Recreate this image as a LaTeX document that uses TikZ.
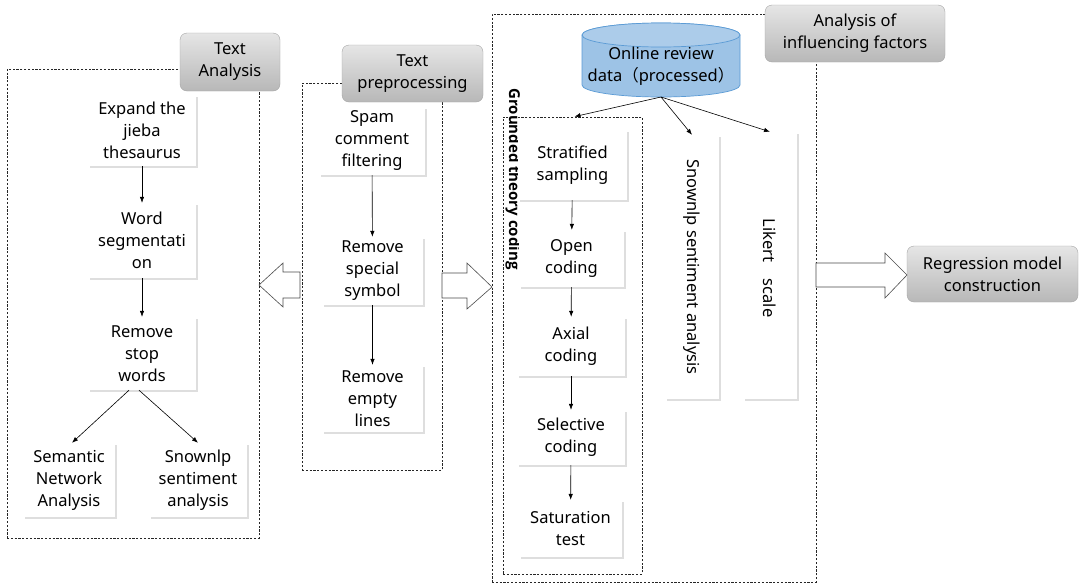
\documentclass[tikz,border=0pt]{standalone}
\usepackage{fontspec}
\setmainfont{Noto Sans}
\newfontfamily\cjk{Noto Sans CJK SC}
\newfontfamily\gfont{Open Sans}
\usetikzlibrary{shadows,arrows.meta}
\definecolor{cylfill}{HTML}{9DC3E6}
\definecolor{cylline}{HTML}{5B9BD5}
\tikzset{
  txt/.style={font=\fontsize{16.5}{22}\selectfont},
  wbox/.style={txt, fill=white, align=center, inner sep=0pt,
    drop shadow={shadow xshift=1.5pt, shadow yshift=-2pt, fill=black!25, opacity=0.5}},
  gbox/.style={txt, draw=black!35, rounded corners=7pt, top color=black!10, bottom color=black!28,
    align=center, inner sep=0pt},
  dbox/.style={draw=black!85, line width=0.8pt, dash pattern=on 2.2pt off 1.6pt, inner sep=0pt},
  conn/.style={-{Latex[length=6pt,width=4.5pt]}, line width=0.6pt},
  hollow/.style={draw=black!70, fill=white, line width=0.6pt, line join=miter}
}
\begin{document}
\begin{tikzpicture}[x=1pt,y=-1pt]
\useasboundingbox (0,0) rectangle (1084,587);
\fill[white] (0,0) rectangle (1084,587);

% ---------- containers ----------
\node[dbox, minimum width=252, minimum height=469] (ta) at (133,303.5) {};
\node[dbox, minimum width=140, minimum height=387] (tp) at (372,276.5) {};
\node[dbox, minimum width=324, minimum height=568] (af) at (654,298) {};
\node[dbox, minimum width=139, minimum height=457] (gtc) at (572.5,345.5) {};

% ---------- labels ----------
\node[gbox, minimum width=100, minimum height=58] (lta) at (230,62) {Text\\Analysis};
\node[gbox, minimum width=141, minimum height=57] (ltp) at (412.5,73.5) {Text\\preprocessing};
\node[gbox, minimum width=180, minimum height=57] (laf) at (855,33.5) {Analysis of\\influencing factors};
\node[gbox, minimum width=171, minimum height=56] (reg) at (992.5,274) {Regression model\\construction};

% ---------- Text analysis column ----------
\node[wbox, minimum width=108, minimum height=71] (a1) at (142,130.5) {Expand the\\jieba\\thesaurus};
\node[wbox, minimum width=108, minimum height=75] (a2) at (142,240.5) {Word\\segmentati\\on};
\node[wbox, minimum width=108, minimum height=73] (a3) at (142,353.5) {Remove\\stop\\words};
\node[wbox, minimum width=92, minimum height=74] (a4) at (69,480) {Semantic\\Network\\Analysis};
\node[wbox, minimum width=98, minimum height=74] (a5) at (198,480) {Snownlp\\sentiment\\analysis};
\draw[conn] (a1) -- (a2);
\draw[conn] (a2) -- (a3);
\draw[conn] ([xshift=-13pt]a3.south) -- ([xshift=3pt]a4.north);
\draw[conn] ([xshift=-3pt]a3.south) -- (a5.north);

% ---------- Text preprocessing column ----------
\node[wbox, minimum width=106, minimum height=68] (p1) at (372,141) {Spam\\comment\\filtering};
\node[wbox, minimum width=101, minimum height=68] (p2) at (372.5,271) {Remove\\special\\symbol};
\node[wbox, minimum width=101, minimum height=67] (p3) at (372.5,398.5) {Remove\\empty\\lines};
\draw[conn] (p1) -- (p2);
\draw[conn] (p2) -- (p3);

% ---------- hollow arrows ----------
\draw[hollow] (300,272) -- (283,272) -- (283,263) -- (259,285) -- (283,307) -- (283,298) -- (300,298) -- cycle;
\draw[hollow] (442,273) -- (467,273) -- (467,263) -- (492,287) -- (467,309) -- (467,298) -- (442,298) -- cycle;
\draw[hollow] (816,263) -- (885,263) -- (885,253) -- (907,275) -- (885,298) -- (885,287) -- (816,287) -- cycle;

% ---------- cylinder ----------
\path[fill=cylfill, draw=cylline, line width=0.7pt]
  (582,35) -- (582,85) arc[start angle=180, end angle=360, x radius=79pt, y radius=12pt]
  -- (740,35) arc[start angle=0, end angle=180, x radius=79pt, y radius=12pt] -- cycle;
\path[fill=cylfill!85!white, draw=cylline, line width=0.7pt] (661,35) ellipse[x radius=79pt, y radius=12pt];
\node[txt, align=center, minimum width=158, minimum height=74, inner sep=0pt, yshift=-3pt] (cyl) at (661,63)
  {Online review\\data{\cjk （}processed{\cjk ）}};
\coordinate (cylb) at (661,97);

% ---------- grounded theory column ----------
\node[rotate=-90, font=\gfont\fontsize{15}{17}\selectfont\bfseries] (gtl) at (513,179) {Grounded theory coding};
\node[wbox, minimum width=109, minimum height=70] (g1) at (572.5,165) {Stratified\\sampling};
\node[wbox, minimum width=105, minimum height=57] (g2) at (571.5,258.5) {Open\\coding};
\node[wbox, minimum width=108, minimum height=59] (g3) at (571,346.5) {Axial\\coding};
\node[wbox, minimum width=108, minimum height=55] (g4) at (571,437.5) {Selective\\coding};
\node[wbox, minimum width=103, minimum height=57] (g5) at (570.5,528.5) {Saturation\\test};
\draw[conn] (g1) -- (g2);
\draw[conn] (g2) -- (g3);
\draw[conn] (g3) -- (g4);
\draw[conn] (g4) -- (g5);

% ---------- vertical boxes ----------
\node[wbox, minimum width=54, minimum height=264] (sn) at (692,267) {};
\node[txt, rotate=-90] (snt) at (692,267) {Snownlp sentiment analysis};
\node[wbox, minimum width=54, minimum height=267] (lk) at (770,265.5) {};
\node[txt, rotate=-90] (lkt) at (770,268) {Likert\quad scale};

% ---------- arrows from cylinder ----------
\draw[conn] (cylb) -- ([xshift=2pt]gtc.north);
\draw[conn] (cylb) -- (sn.north);
\draw[conn] (cylb) -- (lk.north);
\end{tikzpicture}
\end{document}
